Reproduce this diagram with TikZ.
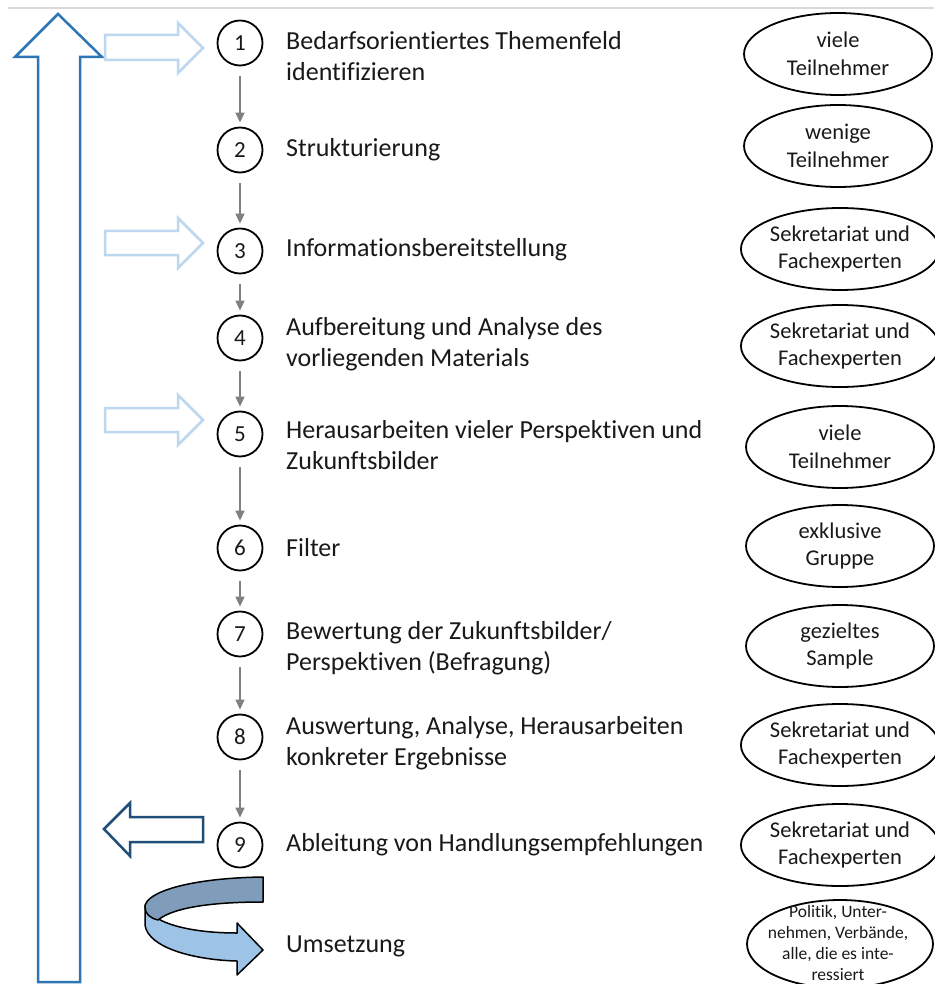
\documentclass[tikz,border=0pt]{standalone}
\usepackage{fontspec}
\setmainfont{Carlito}[Ligatures={NoCommon,TeX}]
\usetikzlibrary{shapes.geometric,arrows.meta}
\definecolor{bigblue}{RGB}{46,117,182}
\definecolor{lightblue}{RGB}{189,215,238}
\definecolor{darkblue}{RGB}{31,78,121}
\definecolor{ribbondark}{RGB}{127,157,186}
\definecolor{ribbonlight}{RGB}{157,195,230}
\definecolor{topline}{RGB}{217,217,217}
\definecolor{txt}{RGB}{25,25,25}
\begin{document}
\begin{tikzpicture}[x=1pt,y=-1pt,
  numc/.style={circle,draw=black,line width=1.8pt,minimum size=45pt,inner sep=0pt,text=txt,font=\fontsize{23}{27}\selectfont},
  lbl/.style={anchor=west,align=left,inner sep=0pt,text=txt,font=\fontsize{26}{31}\selectfont},
  who/.style={ellipse,draw=black,line width=1.8pt,minimum width=188pt,minimum height=82pt,inner sep=0pt,align=center,text=txt,font=\fontsize{22.5}{27.5}\selectfont},
  flow/.style={draw=gray,line width=1.3pt,-{Triangle[length=10pt,width=9pt]},shorten <=10pt,shorten >=4pt},
  hollow/.style={line width=2.5pt,line join=miter},
]
\useasboundingbox (0,0) rectangle (934,984);
\fill[white] (0,0) rectangle (934,984);

% top rule
\draw[topline,line width=2pt] (8,8) -- (934,8);

% big up arrow
\draw[bigblue,hollow] (38,982) -- (38,57) -- (15,57) -- (58,14) -- (102,57) -- (80,57) -- (80,982) -- cycle;

% light arrows
\draw[lightblue,hollow] (105,35) -- (178,35) -- (178,23) -- (203,48) -- (178,73) -- (178,60) -- (105,60) -- cycle;
\draw[lightblue,hollow] (105,231) -- (178,231) -- (178,218) -- (203,243) -- (178,268) -- (178,255) -- (105,255) -- cycle;
\draw[lightblue,hollow] (105,408) -- (178,408) -- (178,395) -- (203,420) -- (178,445) -- (178,432) -- (105,432) -- cycle;

% dark back arrow
\draw[darkblue,hollow] (203,817) -- (130,817) -- (130,803) -- (104,829) -- (130,856) -- (130,842) -- (203,842) -- cycle;

% ribbon U-turn arrow
\filldraw[ribbonlight,draw=black,line width=1.5pt,line join=round]
  (145,905) -- (145,925) .. controls (148,948) and (195,960) .. (237,961)
  -- (237,975) -- (263,950) -- (237,923) -- (237,933)
  .. controls (195,933) and (160,925) .. (150,912) -- cycle;
\filldraw[ribbondark,draw=black,line width=1.5pt,line join=round]
  (263,877) .. controls (190,878) and (145,892) .. (145,907)
  .. controls (145,914) and (150,918) .. (158,920)
  .. controls (175,906) and (220,902) .. (263,902) -- cycle;

% numbered circles
\node[numc] (c1) at (240,43) {1};
\node[numc] (c2) at (240,150) {2};
\node[numc] (c3) at (240,251) {3};
\node[numc] (c4) at (240,338) {4};
\node[numc] (c5) at (240,434) {5};
\node[numc] (c6) at (240,548) {6};
\node[numc] (c7) at (240,634) {7};
\node[numc] (c8) at (240,737) {8};
\node[numc] (c9) at (240,845) {9};

\draw[flow] (c1) -- (c2);
\draw[flow] (c2) -- (c3);
\draw[flow] (c3) -- (c4);
\draw[flow] (c4) -- (c5);
\draw[flow] (c5) -- (c6);
\draw[flow] (c6) -- (c7);
\draw[flow] (c7) -- (c8);
\draw[flow] (c8) -- (c9);

% labels
\node[lbl] (l1) at (286,56) {Bedarfsorientiertes Themenfeld\\identifizieren};
\node[lbl] (l2) at (286,150) {Strukturierung};
\node[lbl] (l3) at (286,250) {Informationsbereitstellung};
\node[lbl] (l4) at (286,344) {Aufbereitung und Analyse des\\vorliegenden Materials};
\node[lbl] (l5) at (286,445) {Herausarbeiten vieler Perspektiven und\\Zukunftsbilder};
\node[lbl] (l6) at (286,548) {Filter};
\node[lbl] (l7) at (286,648) {Bewertung der Zukunftsbilder/\\Perspektiven (Befragung)};
\node[lbl] (l8) at (286,743) {Auswertung, Analyse, Herausarbeiten\\konkreter Ergebnisse};
\node[lbl] (l9) at (286,845) {Ableitung von Handlungsempfehlungen};
\node[lbl] (l10) at (286,946) {Umsetzung};

% participant ellipses
\node[who] (e1) at (838,54) {viele\\Teilnehmer};
\node[who] (e2) at (838,146) {wenige\\Teilnehmer};
\node[who] (e3) at (840,249) {Sekretariat und\\Fachexperten};
\node[who] (e4) at (840,346) {Sekretariat und\\Fachexperten};
\node[who] (e5) at (840,447) {viele\\Teilnehmer};
\node[who] (e6) at (840,546) {exklusive\\Gruppe};
\node[who] (e7) at (840,646) {gezieltes\\Sample};
\node[who] (e8) at (840,745) {Sekretariat und\\Fachexperten};
\node[who] (e9) at (840,845) {Sekretariat und\\Fachexperten};
\node[who,minimum height=88pt,minimum width=186pt] (e10) at (840,944) {};
\node[align=center,inner sep=0pt,text=txt,font=\fontsize{17.5}{21}\selectfont] (t10) at (838,943) {Politik, Unter-\\nehmen, Verbände,\\alle, die es inte-\\ressiert};
\end{tikzpicture}
\end{document}
